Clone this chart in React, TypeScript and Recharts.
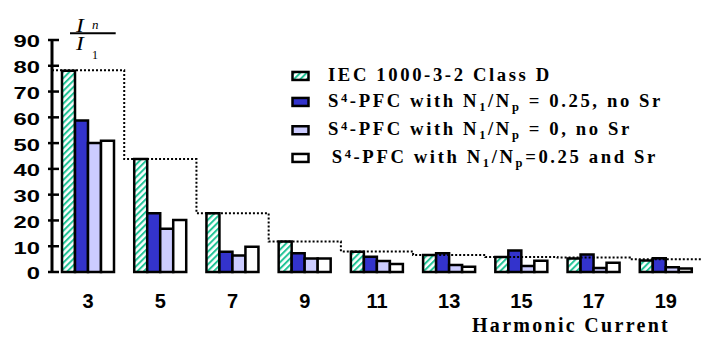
import React from 'react';
import { ComposedChart, Bar, Line, XAxis, YAxis, Legend } from 'recharts';

const harmonics = ['3', '5', '7', '9', '11', '13', '15', '17', '19'];
const iecClassD = [78.1, 43.8, 22.8, 11.8, 7.9, 6.6, 5.8, 5.2, 4.5];
const pfcN025NoSr = [58.8, 22.8, 7.9, 7.3, 5.9, 7.3, 8.3, 6.8, 5.3];
const pfcN0NoSr = [50, 16.8, 6.4, 5.2, 4.3, 2.7, 2.3, 1.6, 1.8];
const pfcN025Sr = [50.9, 20.2, 9.8, 5.2, 3.1, 2.0, 4.4, 3.6, 1.4];
const limitPos = [0, 1, 2, 3, 4, 5, 6, 7, 8, 9];
const limitLevels = [78.3, 43.8, 22.8, 11.8, 8.0, 6.6, 5.8, 5.6, 4.9, 4.9];
const yTicks = [0, 10, 20, 30, 40, 50, 60, 70, 80, 90];
const boundaryTicks = [0, 1, 2, 3, 4, 5, 6, 7, 8, 9];

const data = harmonics.map((h, i) => ({
  h,
  iec: iecClassD[i],
  a: pfcN025NoSr[i],
  b: pfcN0NoSr[i],
  c: pfcN025Sr[i],
}));
const limitData = limitPos.map((x, i) => ({ x, lim: limitLevels[i] }));

const GREEN = '#22c497';
const BLUE = '#3333cc';
const LIGHT = '#ccccff';
const SANS = "'Liberation Sans', Arial, sans-serif";
const SERIF = "'Liberation Serif', 'Times New Roman', serif";

const YTick = (props: any) => {
  const { x, y, payload } = props;
  const ax = x + 12;
  return (
    <g>
      <line x1={ax - 4} x2={ax + 7} y1={y} y2={y} stroke="#000" strokeWidth={2.5} />
      <text
        x={x}
        y={y}
        dy={7.5}
        textAnchor="end"
        style={{ fontFamily: SANS, fontWeight: 'bold', fontSize: 17 }}
        fill="#000"
        transform={`translate(${x} ${y}) scale(1.4 1) translate(${-x} ${-y})`}
      >
        {payload.value}
      </text>
    </g>
  );
};

const BoundaryTick = (props: any) => {
  const { x, y } = props;
  return <line x1={x} x2={x} y1={y - 5} y2={y + 6} stroke="#000" strokeWidth={2.5} />;
};

const CatTick = (props: any) => {
  const { x, y, payload } = props;
  return (
    <text x={x} y={y} dy={14.3} textAnchor="middle" style={{ fontFamily: SANS, fontWeight: 'bold', fontSize: 20 }} fill="#000">
      {payload.value}
    </text>
  );
};

const FracLabel = () => (
  <g fill="#000" style={{ fontFamily: SERIF }}>
    <text x={76} y={31.7} style={{ fontFamily: SERIF, fontSize: 18, fontStyle: 'italic' }} transform="translate(76 31.7) scale(1.3 1) translate(-76 -31.7)">I</text>
    <text x={92} y={29} style={{ fontFamily: SERIF, fontSize: 13, fontStyle: 'italic' }}>n</text>
    <line x1={70} x2={115.7} y1={33.3} y2={33.3} stroke="#000" strokeWidth={2} />
    <text x={76} y={50} style={{ fontFamily: SERIF, fontSize: 18, fontStyle: 'italic' }} transform="translate(76 50) scale(1.3 1) translate(-76 -50)">I</text>
    <text x={92} y={59.3} style={{ fontFamily: SERIF, fontSize: 12 }}>1</text>
  </g>
);

const XTitle = () => (
  <text x={472} y={331.5} style={{ fontFamily: SERIF, fontWeight: 'bold', fontSize: 20, letterSpacing: 2.3 }} fill="#000">
    Harmonic Current
  </text>
);

const SUB = 12.5;
const S4PFC = () => (
  <>
    S<tspan fontSize={SUB} dy={-5}>4</tspan>
    <tspan dy={5}>-PFC with N</tspan>
    <tspan fontSize={SUB} dy={4}>1</tspan>
    <tspan dy={-4}>/N</tspan>
    <tspan fontSize={SUB} dy={4}>p</tspan>
  </>
);

const legendRows = [
  { fill: 'url(#hatchLeg)', base: 20.7, x: 48, kind: 0 },
  { fill: BLUE, base: 46.7, x: 48, kind: 1 },
  { fill: LIGHT, base: 75, x: 48, kind: 2 },
  { fill: '#fff', base: 102.7, x: 51.7, kind: 3 },
];

const LegendContent = () => (
  <svg width={430} height={115} style={{ display: 'block', overflow: 'visible' }}>
    <defs>
      <pattern id="hatchLeg" patternUnits="userSpaceOnUse" width={4.5} height={4.5} patternTransform="rotate(45)">
        <rect width={4.5} height={4.5} fill="#fff" />
        <line x1={1} y1={0} x2={1} y2={4.5} stroke={GREEN} strokeWidth={2} />
      </pattern>
    </defs>
    {legendRows.map((r, i) => (
      <g key={i}>
        <rect x={12.5} y={r.base - 8.75} width={16} height={8} fill={r.fill} stroke="#000" strokeWidth={2.5} />
        <text
          x={r.x}
          y={r.base}
          style={{ fontFamily: SERIF, fontWeight: 'bold', fontSize: 18.7, letterSpacing: 2.6 }}
          fill="#000"
        >
          {r.kind === 0 && 'IEC 1000-3-2 Class D'}
          {r.kind === 1 && (
            <>
              <S4PFC />
              <tspan dy={-4}> = 0.25, no Sr</tspan>
            </>
          )}
          {r.kind === 2 && (
            <>
              <S4PFC />
              <tspan dy={-4}> = 0, no Sr</tspan>
            </>
          )}
          {r.kind === 3 && (
            <>
              <S4PFC />
              <tspan dy={-4}>=0.25 and Sr</tspan>
            </>
          )}
        </text>
      </g>
    ))}
  </svg>
);

export default function App() {
  return (
    <div style={{ position: 'absolute', left: 0, top: 0, width: 715, height: 337, background: '#fff' }}>
      <ComposedChart
        width={715}
        height={337}
        data={data}
        margin={{ top: 40, right: 13, bottom: 35, left: 0 }}
        barGap={0}
        barSize={13}
      >
        <defs>
          <pattern id="hatchBar" patternUnits="userSpaceOnUse" width={4.5} height={4.5} patternTransform="rotate(45)">
            <rect width={4.5} height={4.5} fill="#fff" />
            <line x1={1} y1={0} x2={1} y2={4.5} stroke={GREEN} strokeWidth={2} />
          </pattern>
        </defs>
        <XAxis
          xAxisId="num"
          type="number"
          dataKey="x"
          domain={[0, 9]}
          ticks={boundaryTicks}
          interval={0}
          allowDataOverflow
          height={0}
          tickSize={0}
          tickMargin={0}
          tickLine={false}
          tick={<BoundaryTick />}
          axisLine={{ stroke: '#000', strokeWidth: 3 }}
        />
        <XAxis
          xAxisId="cat"
          dataKey="h"
          interval={0}
          height={30}
          tickSize={0}
          tickMargin={22}
          tickLine={false}
          axisLine={false}
          tick={<CatTick />}
          label={<XTitle />}
        />
        <YAxis
          domain={[0, 90]}
          ticks={yTicks}
          interval={0}
          width={52}
          tickSize={0}
          tickMargin={12}
          tickLine={false}
          tick={<YTick />}
          axisLine={{ stroke: '#000', strokeWidth: 3 }}
          label={<FracLabel />}
        />
        <Legend
          layout="horizontal"
          verticalAlign="middle"
          align="center"
          wrapperStyle={{ left: 280, top: 60, width: 430, height: 115 }}
          content={() => <LegendContent />}
        />
        <Bar xAxisId="cat" dataKey="iec" fill="url(#hatchBar)" stroke="#000" strokeWidth={2.5} isAnimationActive={false} />
        <Bar xAxisId="cat" dataKey="a" fill={BLUE} stroke="#000" strokeWidth={2.5} isAnimationActive={false} />
        <Bar xAxisId="cat" dataKey="b" fill={LIGHT} stroke="#000" strokeWidth={2.5} isAnimationActive={false} />
        <Bar xAxisId="cat" dataKey="c" fill="#fff" stroke="#000" strokeWidth={2.5} isAnimationActive={false} />
        <Line
          xAxisId="num"
          data={limitData}
          dataKey="lim"
          type="stepAfter"
          stroke="#000"
          strokeWidth={2}
          strokeDasharray="2 2"
          dot={false}
          activeDot={false}
          legendType="none"
          isAnimationActive={false}
        />
      </ComposedChart>
    </div>
  );
}
